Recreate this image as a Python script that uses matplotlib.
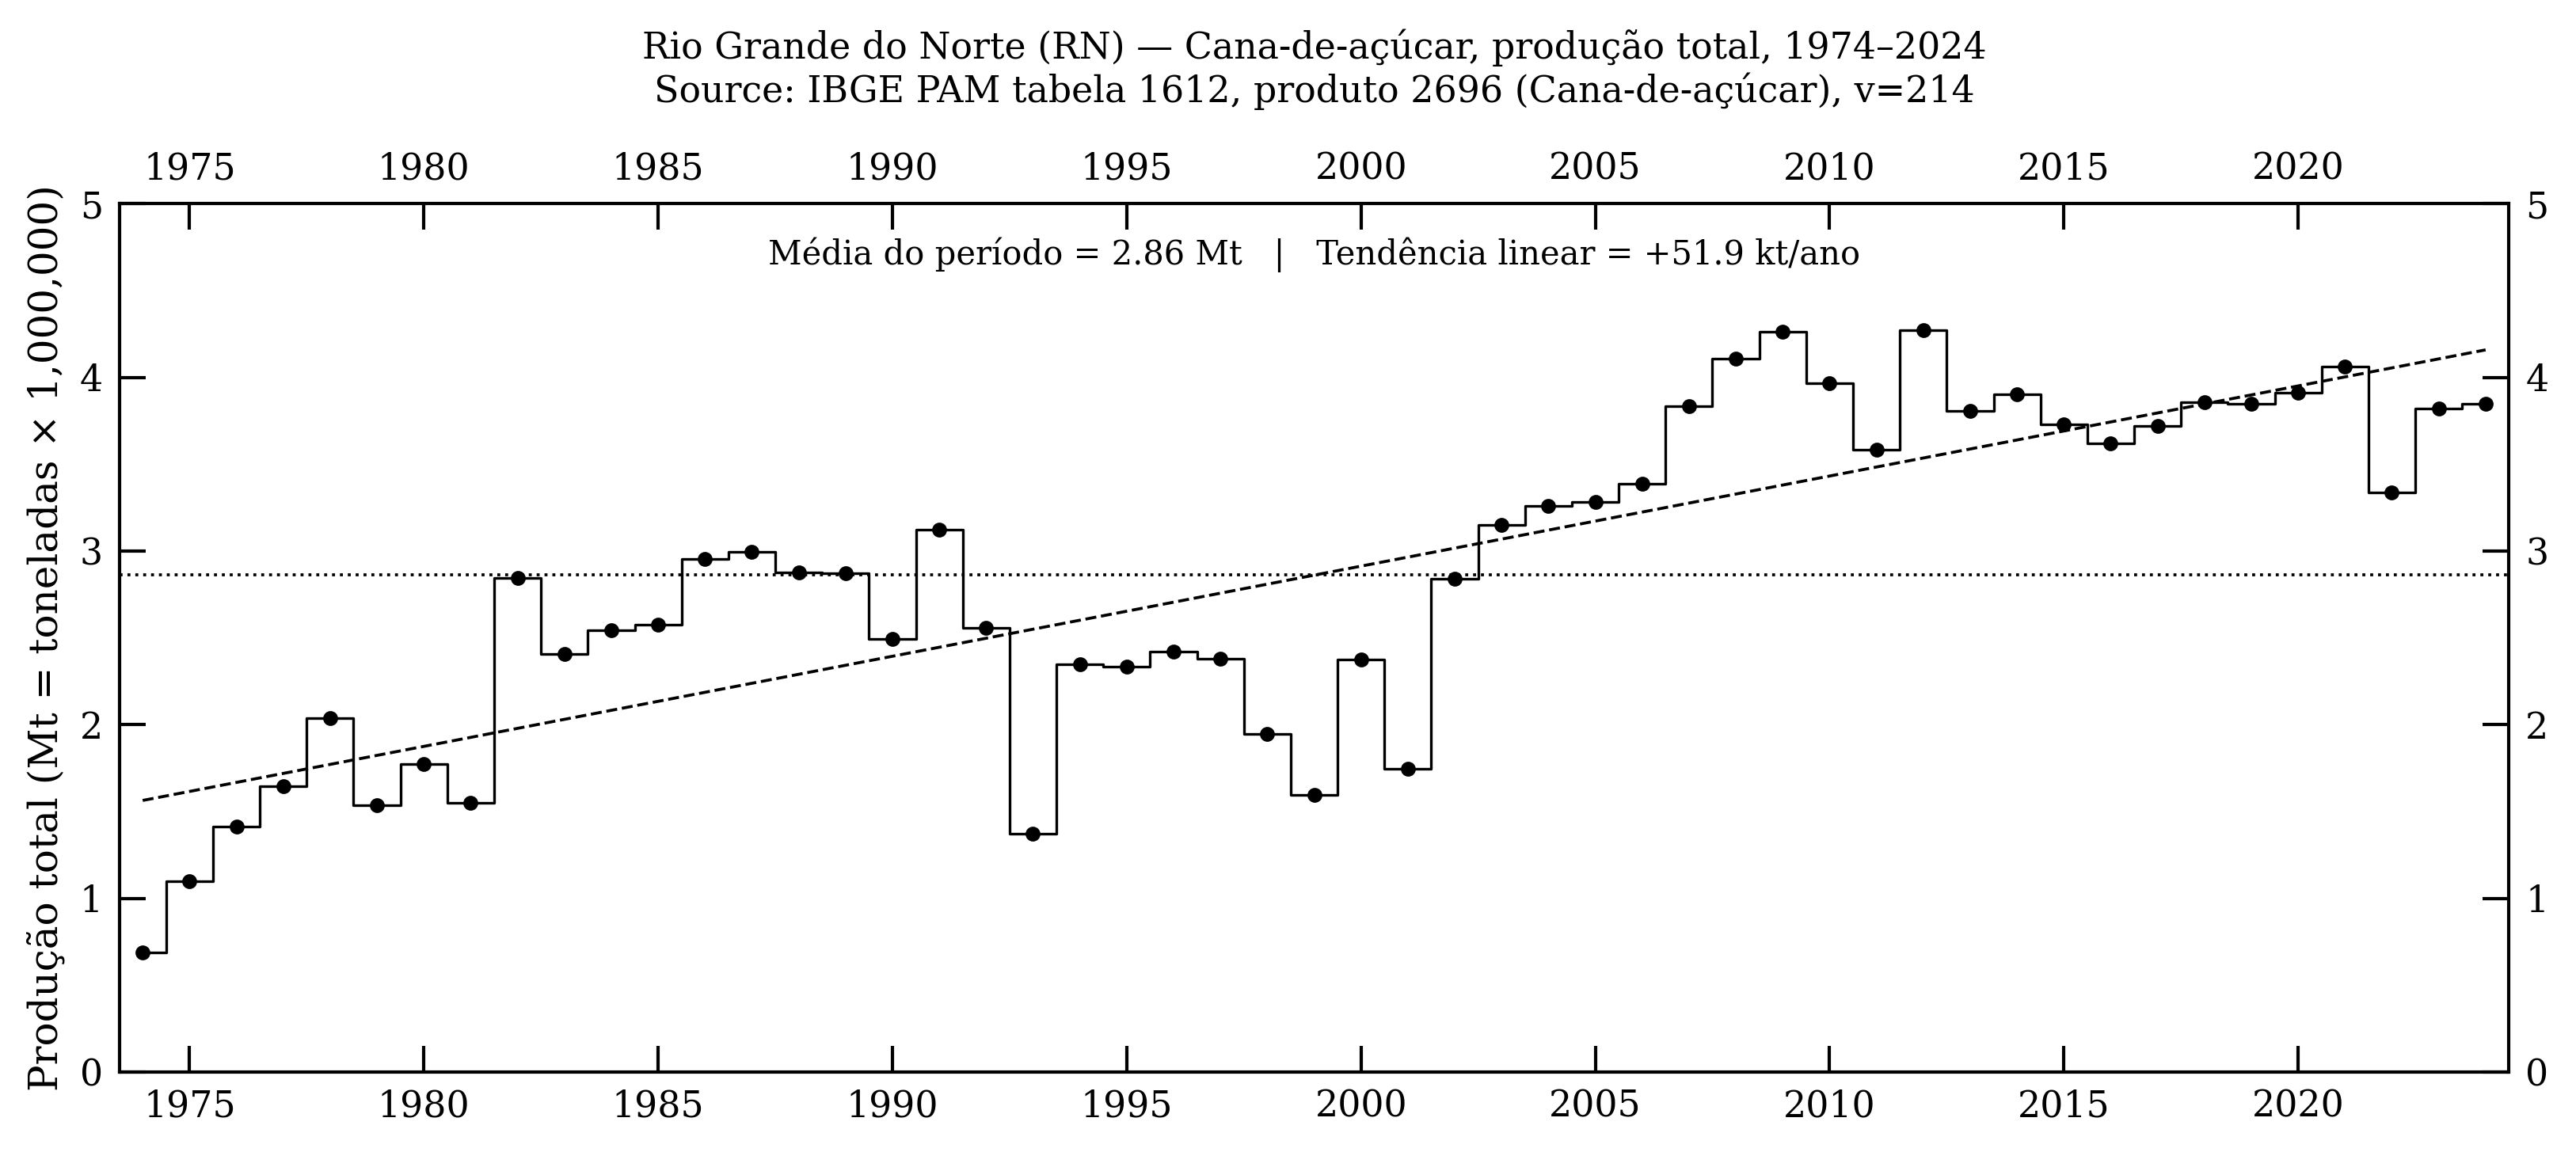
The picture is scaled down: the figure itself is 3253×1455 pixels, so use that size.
import numpy as np
import matplotlib
matplotlib.use("Agg")
import matplotlib.pyplot as plt

plt.rcParams["font.family"] = ["DejaVu Serif"]

# Produção anual de cana-de-açúcar no RN (milhões de toneladas)
years = np.arange(1974, 2025)
production_mt = [
    0.69, 1.10, 1.415, 1.647, 2.04, 1.538, 1.775, 1.552, 2.847, 2.406,
    2.543, 2.575, 2.956, 2.995, 2.879, 2.872, 2.492, 3.125, 2.557, 1.371,
    2.348, 2.334, 2.422, 2.378, 1.947, 1.596, 2.374, 1.747, 2.840, 3.151,
    3.258, 3.283, 3.387, 3.836, 4.109, 4.265, 3.965, 3.583, 4.270, 3.808,
    3.902, 3.730, 3.621, 3.721, 3.856, 3.848, 3.912, 4.061, 3.338, 3.819,
    3.849,
]

title = "Rio Grande do Norte (RN) \u2014 Cana-de-açúcar, produção total, 1974\u20132024"
source = "Source: IBGE PAM tabela 1612, produto 2696 (Cana-de-açúcar), v=214"
y_label = "Produção total (Mt = toneladas × 1,000,000)"

values = np.array(production_mt)
mean_value = values.mean()
slope, intercept = np.polyfit(years, values, 1)

fig = plt.figure(figsize=(3253 / 300, 1455 / 300), dpi=300)
ax = fig.add_axes([0.0463, 0.0694, 0.9277, 0.7537])

# Step line + points
ax.step(years, values, where="mid", color="black", linewidth=0.8)
ax.plot(years, values, "o", color="black", markersize=3.5)

# Mean and trend lines
ax.axhline(mean_value, color="black", linestyle=":", linewidth=0.9)
ax.plot(years, slope * years + intercept, color="black", linestyle="--", linewidth=0.9)

ax.text(
    0.5, 0.962,
    f"Média do período = {mean_value:.2f} Mt   |   "
    f"Tendência linear = {slope * 1000:+.1f} kt/ano",
    transform=ax.transAxes, ha="center", va="top", fontsize=10
)

# Format axes
ax.set_xlim(1973.5, 2024.5)
ax.set_ylim(0, 5)
ax.set_xticks(np.arange(1975, 2025, 5))
ax.set_yticks(np.arange(0, 6, 1))
ax.tick_params(
    which="major", direction="in", length=8, width=1.0, labelsize=11, pad=5,
    top=True, right=True, labeltop=True, labelright=True
)
ax.minorticks_off()
for spine in ax.spines.values():
    spine.set_linewidth(1.0)

ax.set_ylabel(y_label, fontsize=12, labelpad=4)
ax.set_title(title + "\n" + source, fontsize=11, pad=15)

fig.savefig("out.png", dpi=300)
